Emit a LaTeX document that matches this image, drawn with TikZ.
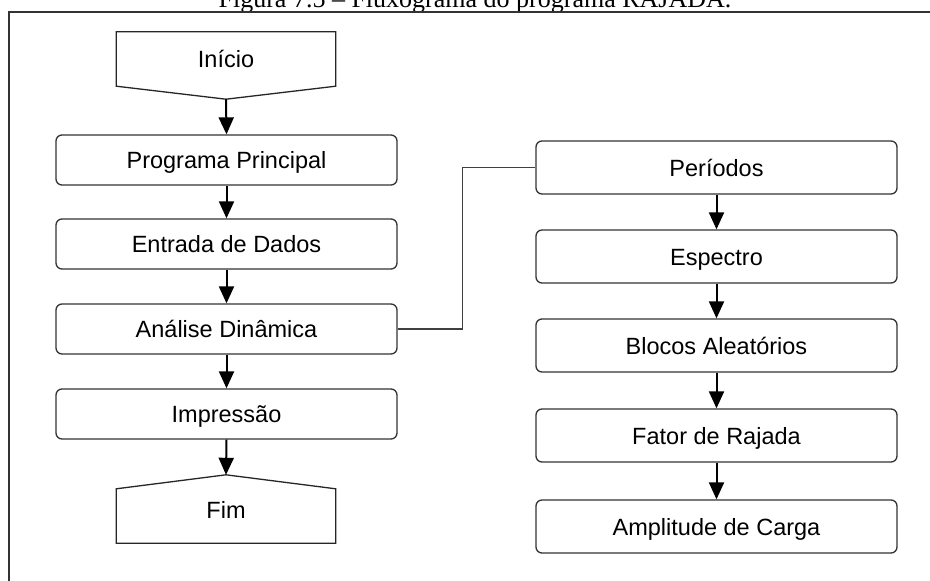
\documentclass[tikz,border=0pt]{standalone}
\usepackage{fontspec}
\setmainfont{Liberation Sans}
\newfontfamily\captionfont{Liberation Serif}
\usetikzlibrary{arrows.meta,calc}

\tikzset{
  lbl/.style={inner sep=0pt, text height=17pt, text depth=0pt,
    font=\fontsize{23.5pt}{28pt}\selectfont},
  procbox/.style={lbl, draw=black!80, line width=1.3pt, rounded corners=6pt},
  leftbox/.style={procbox, minimum width=341pt, minimum height=50pt},
  rightbox/.style={procbox, minimum width=361pt, minimum height=53pt},
  termbox/.style={lbl, minimum width=219pt, minimum height=54pt},
  termline/.style={draw=black!85, line width=1.3pt, line join=miter},
  flow/.style={draw=black, line width=2pt,
    -{Triangle[length=17pt,width=15pt]}},
  link/.style={draw=black!75, line width=1.4pt},
  frameline/.style={draw=black!80, line width=1.4pt}
}

\begin{document}
\begin{tikzpicture}[x=1pt, y=-1pt]
  \useasboundingbox (0,0) rectangle (930,581);
  \clip (0,0) rectangle (930,581);

  % caption and frame
  \node[anchor=base, inner sep=0pt,
        font={\captionfont\fontsize{26pt}{30pt}\selectfont}]
    (caption) at (475,7.5) {Figura 7.5 – Fluxograma do programa RAJADA.};
  \draw[frameline] (9,590) -- (9,12) -- (940,12);

  % main program column
  \node[termbox] (ini) at (226,59) {Início};
  \coordinate (initip) at ($(ini.south)+(0,13)$);
  \draw[termline] (ini.north west) -- (ini.north east) -- (ini.south east)
    -- (initip) -- (ini.south west) -- cycle;

  \node[leftbox] (pp) at (226.5,160) {Programa Principal};
  \node[leftbox] (ed) at (226.5,244) {Entrada de Dados};
  \node[leftbox] (an) at (226.5,329) {Análise Dinâmica};
  \node[leftbox] (imp) at (226.5,414) {Impressão};

  \node[termbox, text depth=12pt] (fim) at (226,516) {Fim};
  \coordinate (fimtip) at ($(fim.north)+(0,-14)$);
  \draw[termline] (fim.south west) -- (fim.north west) -- (fimtip)
    -- (fim.north east) -- (fim.south east) -- cycle;

  % dynamic analysis column
  \node[rightbox] (per) at (716.5,167.5) {Períodos};
  \node[rightbox] (esp) at (716.5,256.5) {Espectro};
  \node[rightbox] (blo) at (716.5,345.5) {Blocos Aleatórios};
  \node[rightbox] (fat) at (716.5,435.5) {Fator de Rajada};
  \node[rightbox] (amp) at (716.5,526.5) {Amplitude de Carga};

  % flow arrows
  \draw[flow] (initip) -- (pp.north);
  \draw[flow] (pp) -- (ed);
  \draw[flow] (ed) -- (an);
  \draw[flow] (an) -- (imp);
  \draw[flow] (imp.south) -- (fimtip);

  \draw[flow] (per) -- (esp);
  \draw[flow] (esp) -- (blo);
  \draw[flow] (blo) -- (fat);
  \draw[flow] (fat) -- (amp);

  % link from the analysis step to its sub-steps
  \draw[link] (an.east) -- ++(65,0) |- (per.west);
\end{tikzpicture}
\end{document}
